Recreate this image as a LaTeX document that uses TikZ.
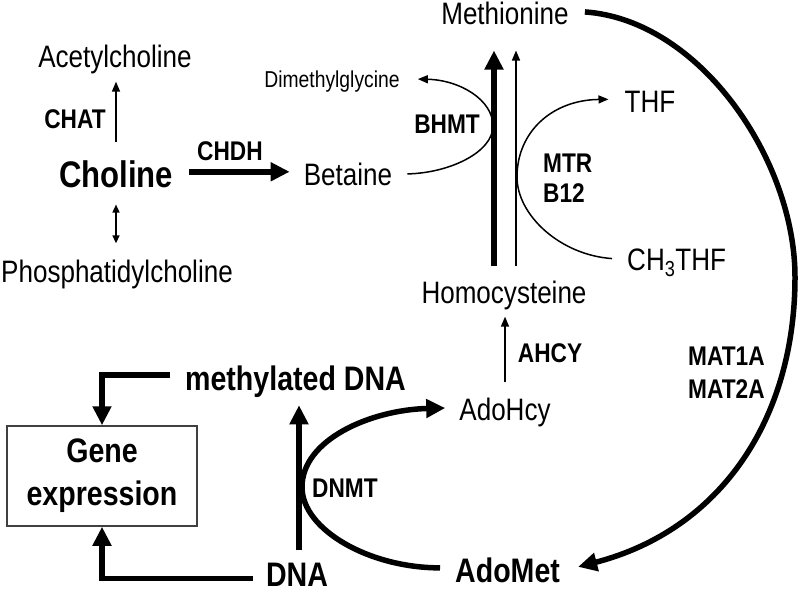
\documentclass[tikz,border=0pt]{standalone}
\usepackage{fontspec}
\setmainfont{Liberation Sans}[FakeStretch=0.84]
\usetikzlibrary{arrows.meta,positioning}

\tikzset{
  mol/.style={inner sep=0pt, font=\fontsize{31}{37}\selectfont},
  minor/.style={inner sep=0pt, font=\fontsize{23}{28}\selectfont},
  enz/.style={inner sep=0pt, font=\bfseries\fontsize{27}{32}\selectfont},
  big/.style={inner sep=0pt, font=\bfseries\fontsize{34}{43}\selectfont},
  hub/.style={inner sep=0pt, font=\bfseries\fontsize{37}{44}\selectfont},
  thinarr/.style={line width=1.5pt, -{Triangle[length=10pt,width=8pt]}},
  dblarr/.style={line width=1.5pt, {Triangle[length=8pt,width=7pt]}-{Triangle[length=8pt,width=7pt]}},
  fatarr/.style={line width=5.5pt, -{Triangle[length=19pt,width=18pt]}},
}

\begin{document}
\begin{tikzpicture}[x=1pt,y=-1pt]
\useasboundingbox (0,0) rectangle (800,594);

% choline
\node[hub,anchor=base] (choline) at (116,187) {Choline};
\node[mol,anchor=base] (ach) at (115,67) {Acetylcholine};
\node[mol,anchor=base] (pc) at (117,282) {Phosphatidylcholine};
\node[enz,anchor=base] (chat) at (75,128) {CHAT};
\node[mol,anchor=base] (betaine) at (348,185) {Betaine};
\node[enz,anchor=base] (chdh) at (230,160) {CHDH};
\node[minor,anchor=base] (dmg) at (332,88) {Dimethylglycine};

% methionine cycle
\node[mol,anchor=base] (met) at (505,25) {Methionine};
\node[mol,anchor=base] (hcy) at (504,303) {Homocysteine};
\node[enz,anchor=base] (bhmt) at (447,133) {BHMT};
\node[mol,anchor=base] (thf) at (650,112) {THF};
\node[mol,anchor=base west] (mthf) at (627,270) {CH\textsubscript{3}THF};
\node[enz,anchor=base west] (mtr) at (543,172) {MTR};
\node[enz,anchor=base west] (b12) at (543,202) {B12};
\node[mol,anchor=base] (sah) at (505,420) {AdoHcy};
\node[enz,anchor=base] (ahcy) at (550,362) {AHCY};
\node[big,anchor=base west] (sam) at (455,582) {AdoMet};
\node[enz,anchor=base west] (mat1) at (688,365) {MAT1A};
\node[enz,anchor=base west] (mat2) at (688,398) {MAT2A};

% DNA methylation
\node[big,anchor=base west] (mdna) at (185,390) {methylated DNA};
\node[big,anchor=base] (dna) at (297,586) {DNA};
\node[enz,anchor=base west] (dnmt) at (312,497) {DNMT};
\node[big,draw=black!75,line width=1.5pt,minimum width=190pt,minimum height=100pt,align=center] (gene) at (102,476) {Gene\\expression};

\draw[thinarr,shorten <=18pt,shorten >=8pt] (choline.north) -- (choline.north |- ach.south);
\draw[dblarr,shorten <=17pt,shorten >=16pt] (choline.south) -- (choline.south |- pc.north);
\draw[fatarr,shorten <=16pt,shorten >=14pt] ([yshift=2pt]choline.east) -- ([yshift=2pt]choline.east -| betaine.west);

\draw[fatarr,shorten <=14pt,shorten >=25pt] ([xshift=-10pt]hcy.north) -- ([xshift=-10pt]hcy.north |- met.south);
\draw[thinarr,shorten <=14pt,shorten >=25pt] ([xshift=12pt]hcy.north) -- ([xshift=12pt]hcy.north |- met.south);
\draw[thinarr] ([xshift=15pt]betaine.east) .. controls (450,173) and (493,152) .. (493,126)
  .. controls (493,100) and (460,80) .. ([xshift=18pt,yshift=3pt]dmg.east);
\draw[thinarr] ([xshift=-15pt,yshift=4pt]mthf.west) .. controls (560,255) and (517,215) .. (517,177)
  .. controls (517,132) and (552,100) .. ([xshift=-16pt,yshift=2pt]thf.west);
\draw[thinarr,shorten <=15pt,shorten >=7pt] (sah.north) -- (sah.north |- hcy.south);
\draw[fatarr] ([xshift=16pt,yshift=2pt]met.east) .. controls (700,20) and (795,160) .. (795,277)
  .. controls (795,420) and (720,530) .. ([xshift=18pt,yshift=3pt]sam.east);

\draw[fatarr,shorten <=12pt,shorten >=8pt] ([xshift=2pt]dna.north) -- ([xshift=2pt]dna.north |- mdna.south);
\draw[fatarr] ([xshift=-15pt,yshift=2pt]sam.west) .. controls (370,568) and (302,530) .. (302,487)
  .. controls (302,440) and (370,410) .. ([xshift=-14pt,yshift=4pt]sah.west);
\draw[fatarr] ([xshift=-15pt,yshift=6pt]mdna.west) -| (gene.north);
\draw[fatarr] ([xshift=-13pt,yshift=-4pt]dna.west) -| (gene.south);
\end{tikzpicture}
\end{document}
